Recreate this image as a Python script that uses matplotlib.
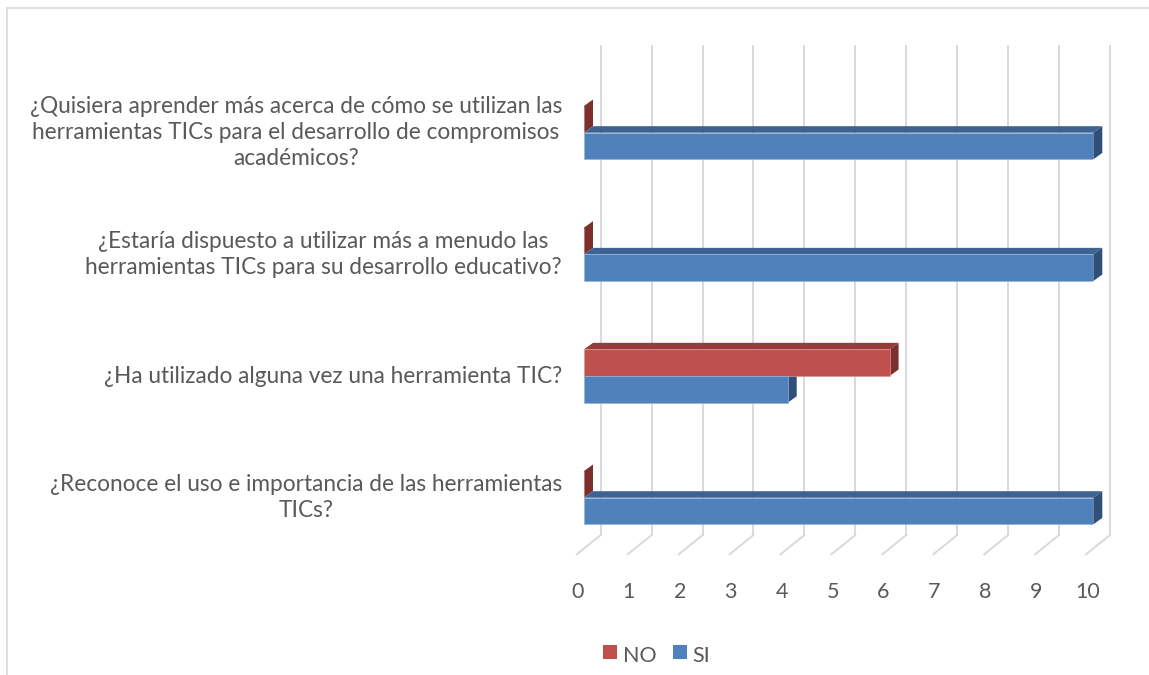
import matplotlib
matplotlib.use("Agg")
import matplotlib.pyplot as plt
from matplotlib.patches import Polygon, Rectangle
from matplotlib.lines import Line2D
import numpy as np

categories = [
    "¿Reconoce el uso e importancia de las herramientas\nTICs?",
    "¿Ha utilizado alguna vez una herramienta TIC?",
    "¿Estaría dispuesto a utilizar más a menudo las \nherramientas TICs para su desarrollo educativo?",
    "¿Quisiera aprender más acerca de cómo se utilizan las\nherramientas TICs para el desarrollo de compromisos\nacadémicos?",
]
si_values = [10, 4, 10, 10]
no_values = [0, 6, 0, 0]
x_ticks = list(range(0, 11))
series_names = ["NO", "SI"]

plt.rcParams['font.family'] = ['Lato', 'DejaVu Sans']
TXT = "#595959"
GRID = "#d9d9d9"
SI_FRONT, SI_TOP, SI_SIDE = "#4f81bd", "#3d6393", "#30507a"
NO_FRONT, NO_TOP, NO_SIDE = "#c0504d", "#953c3a", "#7b302e"

W, H = 1149, 675
fig = plt.figure(figsize=(W / 100, H / 100), dpi=100)
fig.patch.set_facecolor("white")

# axes = front plane of bars (pixel geometry measured from reference)
x0_px, x1_px = 584.0, 1093.3
ytop_px, ybot_px = 59.5, 548.5
ax = fig.add_axes([x0_px / W, 1 - ybot_px / H, (x1_px - x0_px) / W, (ybot_px - ytop_px) / H])
ax.set_xlim(0, 10)
ax.set_ylim(-0.4175, 3.6016)
ax.axis("off")

# depth offsets (pixels, y up)
BACK = (16.7, 13.5)
FLOOR_FRONT = (-7.2, -5.8)
DEPTH = (9.0, 6.5)

def disp(x, y, off=(0, 0)):
    p = ax.transData.transform((x, y))
    return (p[0] + off[0], p[1] + off[1])

ymin, ymax = ax.get_ylim()
for v in x_ticks:
    a = disp(v, ymin, BACK)
    b = disp(v, ymax, BACK)
    fig.add_artist(Line2D([a[0] / W, b[0] / W], [a[1] / H, b[1] / H], color=GRID, lw=1.4,
                          transform=fig.transFigure, zorder=0))
    c = disp(v, ymin, FLOOR_FRONT)
    fig.add_artist(Line2D([c[0] / W, a[0] / W], [c[1] / H, a[1] / H], color=GRID, lw=1.4,
                          transform=fig.transFigure, zorder=0))
    fig.text(c[0] / W + 0.001, (c[1] - 37.7) / H, str(v), ha="center", va="center",
             fontsize=15.5, color=TXT)

h = 0.2194
pos = np.arange(len(categories))

def faces(y_bottom, val, top_c, side_c):
    bl = disp(0, y_bottom + h)
    br = disp(val, y_bottom + h)
    pts_top = [bl, br, (br[0] + DEPTH[0], br[1] + DEPTH[1]), (bl[0] + DEPTH[0], bl[1] + DEPTH[1])]
    tb = disp(val, y_bottom)
    tt = disp(val, y_bottom + h)
    pts_side = [tb, tt, (tt[0] + DEPTH[0], tt[1] + DEPTH[1]), (tb[0] + DEPTH[0], tb[1] + DEPTH[1])]
    for pts, c in ((pts_top, top_c), (pts_side, side_c)):
        fig.add_artist(Polygon([(p[0] / W, p[1] / H) for p in pts], closed=True,
                               facecolor=c, edgecolor="none", transform=fig.transFigure, zorder=1))

for i in pos:
    faces(i, no_values[i], NO_TOP, NO_SIDE)
    faces(i - h, si_values[i], SI_TOP, SI_SIDE)

ax.barh(pos + h / 2, no_values, height=h, color=NO_FRONT, edgecolor="#d99694", linewidth=0.5, zorder=3)
ax.barh(pos - h / 2, si_values, height=h, color=SI_FRONT, edgecolor="#95b3d7", linewidth=0.5, zorder=3)
ax.set_zorder(2)
ax.patch.set_alpha(0)

renderer = fig.canvas.get_renderer()
LABEL_FS = 16.3
PITCH = 26.0
RIGHT = 562.0
for i, lab in enumerate(categories):
    p = disp(0, i)
    lines = lab.split("\n")
    widths = []
    for ln in lines:
        t = fig.text(0, 0, ln.rstrip(), fontsize=LABEL_FS)
        widths.append(t.get_window_extent(renderer).width)
        t.remove()
    bw = max(widths)
    cblock = RIGHT - bw / 2
    n = len(lines)
    for k, ln in enumerate(lines):
        cy = p[1] + ((n - 1) / 2 - k) * PITCH
        fig.text(cblock / W, cy / H, ln.rstrip(), ha="center", va="center",
                 fontsize=LABEL_FS, color=TXT)

ly = 1 - 656 / H
fig.add_artist(Rectangle((603 / W, 1 - 659 / H), 14 / W, 14 / H, facecolor=NO_FRONT,
                         edgecolor="none", transform=fig.transFigure))
fig.text(623 / W, ly, series_names[0], ha="left", va="center", fontsize=15.5, color=TXT)
fig.add_artist(Rectangle((672.5 / W, 1 - 659 / H), 14 / W, 14 / H, facecolor=SI_FRONT,
                         edgecolor="none", transform=fig.transFigure))
fig.text(692 / W, ly, series_names[1], ha="left", va="center", fontsize=15.5, color=TXT)

fig.add_artist(Line2D([7 / W, 1.0], [1 - 8 / H, 1 - 8 / H], color=GRID, lw=1.2, transform=fig.transFigure))
fig.add_artist(Line2D([7 / W, 7 / W], [1 - 8 / H, 0], color=GRID, lw=1.2, transform=fig.transFigure))

fig.savefig("out.png", dpi=100, facecolor="white")
